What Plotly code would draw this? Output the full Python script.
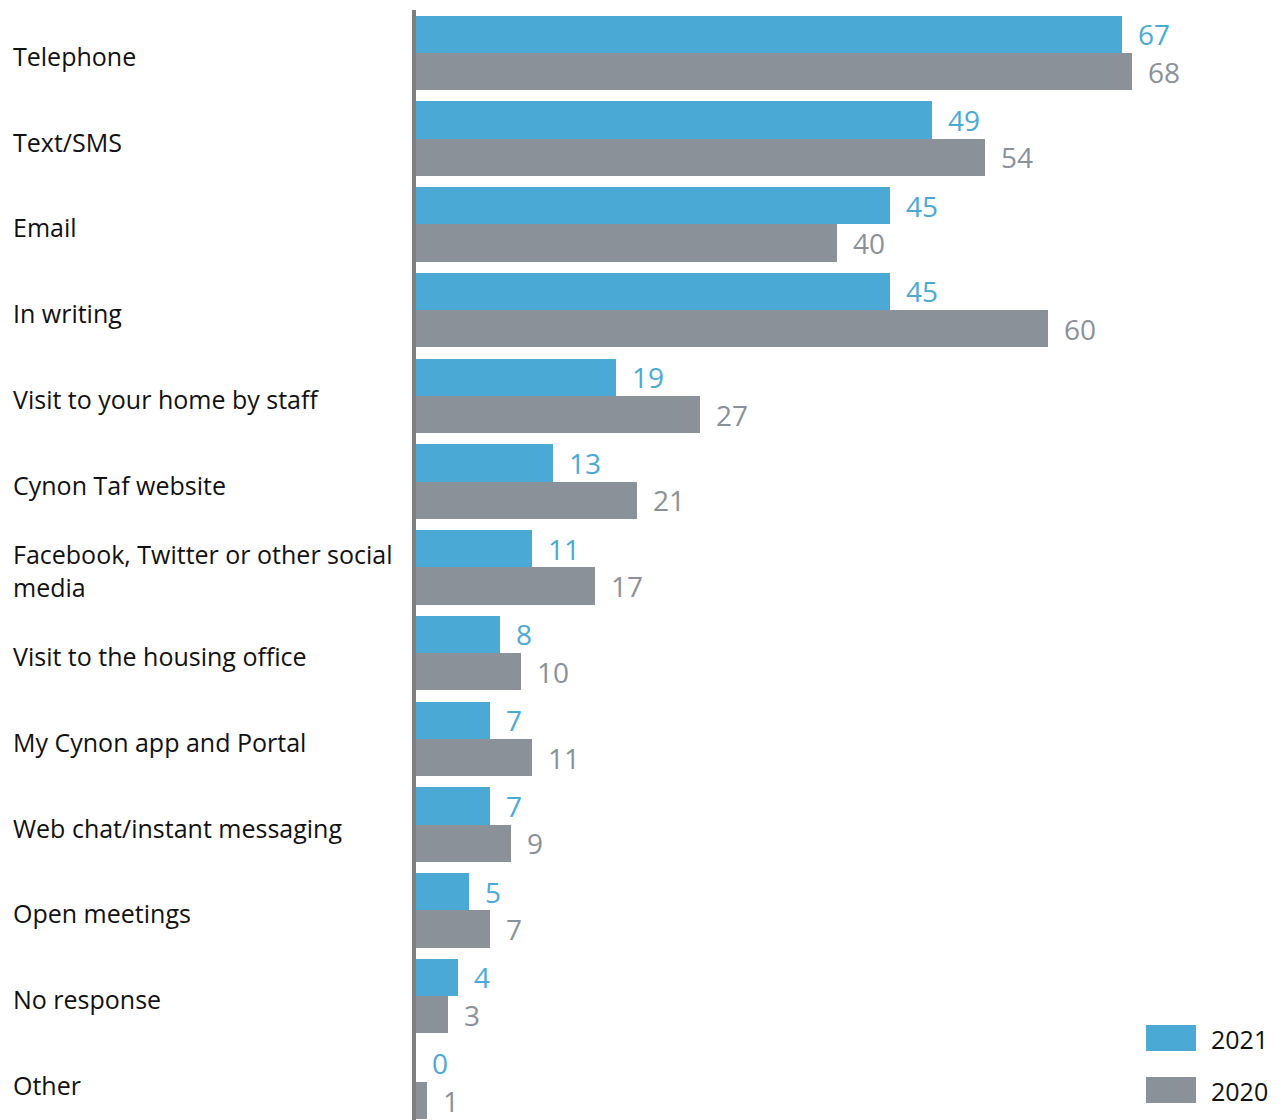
import plotly.graph_objects as go

# Survey: preferred ways of being contacted (%), 2021 vs 2020
categories = [
    "Telephone",
    "Text/SMS",
    "Email",
    "In writing",
    "Visit to your home by staff",
    "Cynon Taf website",
    "Facebook, Twitter or other social media",
    "Visit to the housing office",
    "My Cynon app and Portal",
    "Web chat/instant messaging",
    "Open meetings",
    "No response",
    "Other",
]
values_2021 = [67, 49, 45, 45, 19, 13, 11, 8, 7, 7, 5, 4, 0]
values_2020 = [68, 54, 40, 60, 27, 21, 17, 10, 11, 9, 7, 3, 1]
series_names = ["2021", "2020"]

BLUE = "#4BAAD5"
GREY = "#8A9199"
AXIS = "#7F7F7F"
FONT = "Open Sans, Noto Sans, sans-serif"

W, H = 1284, 1120
ML, MR, MT, MB = 416, 0, 10, 0
plot_w = W - ML - MR
plot_h = H - MT - MB
px_per_unit = 10.53
x_max = plot_w / px_per_unit

row_px = 85.75
y_max = plot_h / row_px - 0.5
bar_w = 0.435

positions = list(range(len(categories)))

fig = go.Figure()
for name, vals, color, off in [
    (series_names[0], values_2021, BLUE, -bar_w),
    (series_names[1], values_2020, GREY, 0.0),
]:
    fig.add_trace(go.Bar(
        name=name,
        y=positions,
        x=vals,
        orientation="h",
        marker=dict(color=color, line=dict(width=0)),
        width=bar_w,
        offset=off,
        showlegend=False,
        hoverinfo="x+name",
    ))

annotations = []
# value labels next to each bar
for vals, color, off in [(values_2021, BLUE, -bar_w / 2), (values_2020, GREY, bar_w / 2)]:
    for i, v in enumerate(vals):
        annotations.append(dict(
            x=v, y=i + off, xref="x", yref="y",
            text=str(v), showarrow=False,
            xanchor="left", yanchor="middle", xshift=14, yshift=0,
            font=dict(family=FONT, size=28, color=color),
        ))

# category labels, left-aligned at the page edge
def wrap(label):
    return label.replace("social media", "social<br>media")

for i, c in enumerate(categories):
    annotations.append(dict(
        x=(11 - ML) / plot_w, y=i, xref="paper", yref="y",
        text=wrap(c), showarrow=False, align="left",
        xanchor="left", yanchor="middle", yshift=-3,
        font=dict(family=FONT, size=25, color="#111111"),
    ))

# legend: swatches and year labels in the lower right corner
shapes = []
for name, color, top in [(series_names[0], BLUE, 1025), (series_names[1], GREY, 1077)]:
    shapes.append(dict(
        type="rect", xref="paper", yref="paper",
        x0=(1146 - ML) / plot_w, x1=(1196 - ML) / plot_w,
        y0=(H - MB - (top + 26)) / plot_h, y1=(H - MB - top) / plot_h,
        fillcolor=color, line=dict(width=0),
    ))
    annotations.append(dict(
        x=(1209 - ML) / plot_w, y=(H - MB - (top + 14)) / plot_h,
        xref="paper", yref="paper", text=name, showarrow=False,
        xanchor="left", yanchor="middle",
        font=dict(family=FONT, size=25, color="#111111"),
    ))

fig.update_layout(
    width=W, height=H,
    margin=dict(l=ML, r=MR, t=MT, b=MB, pad=0),
    paper_bgcolor="white", plot_bgcolor="white",
    barmode="overlay",
    bargap=0,
    xaxis=dict(range=[0, x_max], visible=False, fixedrange=True),
    yaxis=dict(
        range=[y_max, -0.5], showticklabels=False, ticks="",
        showgrid=False, zeroline=False,
        showline=True, linecolor=AXIS, linewidth=4,
        fixedrange=True,
    ),
    annotations=annotations,
    shapes=shapes,
    showlegend=False,
    font=dict(family=FONT),
)

fig.write_html("out.html")
